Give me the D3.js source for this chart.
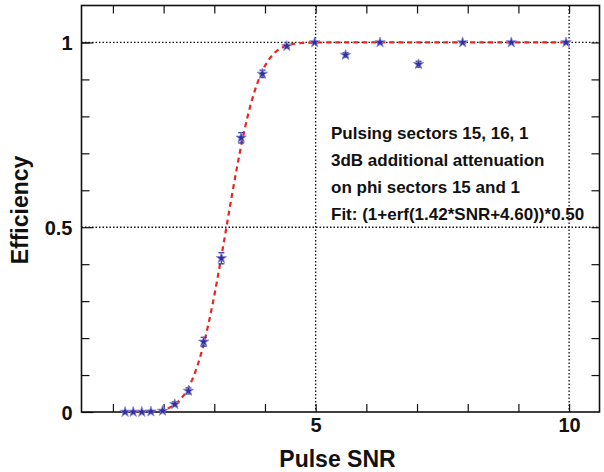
<!DOCTYPE html>
<html>
<head>
<meta charset="utf-8">
<script src="https://cdn.jsdelivr.net/npm/d3@7"></script>
<style>
  body { margin: 0; background: #fff; }
  svg { display: block; font-family: "Liberation Sans", Arial, sans-serif; }
  .tick text { font-weight: bold; font-size: 20px; fill: #111; }
</style>
</head>
<body>
<div id="chart"></div>
<script>
/* DATA */
const snr = [1.24, 1.40, 1.57, 1.75, 1.98, 2.22, 2.49, 2.79, 3.14, 3.53, 3.95, 4.43, 4.98, 5.59, 6.27, 7.03, 7.90, 8.86, 9.94];
const efficiency = [0.0, 0.0, 0.0, 0.001, 0.003, 0.021, 0.057, 0.19, 0.416, 0.742, 0.915, 0.99, 1.0, 0.966, 1.0, 0.941, 1.0, 1.0, 1.0];
const errors = [0.002, 0.002, 0.002, 0.002, 0.003, 0.006, 0.008, 0.012, 0.015, 0.014, 0.01, 0.005, 0.002, 0.006, 0.002, 0.008, 0.002, 0.002, 0.002];

// fit parameters from the legend text
const fitSlope = 1.42;
const fitOffset = 4.60;
const fitRange = [1.2, 10];

const xTicks = [1, 2, 3, 4, 5, 6, 7, 8, 9, 10];
const xLabels = [5, 10];
const yLabels = [0, 0.5, 1];
const yMinor = [0.1, 0.2, 0.3, 0.4, 0.6, 0.7, 0.8, 0.9, 1.0];

const notes = [
    "Pulsing sectors 15, 16, 1",
    "3dB additional attenuation",
    "on phi sectors 15 and 1",
    "Fit: (1+erf(1.42*SNR+4.60))*0.50"
];

/* CONSTANTS */
const width = 604;
const height = 472;
const mLeft = 81.5, mRight = 599.5, mTop = 5.5, mBottom = 412;

const svg = d3.select("#chart")
    .append("svg")
    .attr("width", width)
    .attr("height", height);

/* SCALES */
const xScale = d3.scaleLinear()
    .domain([0.38, 10.6])
    .range([mLeft, mRight]);

const yScale = d3.scaleLinear()
    .domain([0, 1.1])
    .range([mBottom, mTop]);

// error function (Abramowitz & Stegun 7.1.26)
function erf(x) {
    const s = x < 0 ? -1 : 1;
    x = Math.abs(x);
    const t = 1 / (1 + 0.3275911 * x);
    const p = t * (0.254829592 + t * (-0.284496736 + t * (1.421413741 + t * (-1.453152027 + t * 1.061405429))));
    return s * (1 - p * Math.exp(-x * x));
}

/* GRID LINES (dotted) */
svg.selectAll(".vgrid")
    .data(xLabels)
    .join("line")
    .attr("x1", d => xScale(d)).attr("x2", d => xScale(d))
    .attr("y1", mTop).attr("y2", mBottom)
    .attr("stroke", "#111").attr("stroke-width", 1.3)
    .attr("stroke-dasharray", "1.5,2");

svg.selectAll(".hgrid")
    .data([0.5, 1])
    .join("line")
    .attr("x1", mLeft).attr("x2", mRight)
    .attr("y1", d => yScale(d)).attr("y2", d => yScale(d))
    .attr("stroke", "#111").attr("stroke-width", 1.3)
    .attr("stroke-dasharray", "1.5,2");

/* AXES */
const xAxis = d3.axisBottom(xScale)
    .tickValues(xTicks)
    .tickSize(-8)
    .tickFormat(d => xLabels.includes(d) ? d : "")
    .tickPadding(6);

const gx = svg.append("g")
    .attr("transform", "translate(0," + mBottom + ")")
    .call(xAxis);
gx.select(".domain").remove();
gx.selectAll(".tick line").attr("stroke", "#111").attr("stroke-width", 1.2);

const xTop = d3.axisTop(xScale).tickValues(xTicks).tickSize(-8).tickFormat("");
const gxt = svg.append("g").attr("transform", "translate(0," + mTop + ")").call(xTop);
gxt.select(".domain").remove();
gxt.selectAll(".tick line").attr("stroke", "#111").attr("stroke-width", 1.2);

const yAxis = d3.axisLeft(yScale)
    .tickValues(yLabels)
    .tickSize(-12)
    .tickPadding(9)
    .tickFormat(d => String(d));
const gy = svg.append("g").attr("transform", "translate(" + mLeft + ",0)").call(yAxis);
gy.select(".domain").remove();
gy.selectAll(".tick line").attr("stroke", "#111").attr("stroke-width", 1.2);
gy.selectAll(".tick text").attr("dy", "0.36em");

const yMinorAxis = d3.axisLeft(yScale).tickValues(yMinor).tickSize(-8).tickFormat("");
const gym = svg.append("g").attr("transform", "translate(" + mLeft + ",0)").call(yMinorAxis);
gym.select(".domain").remove();
gym.selectAll(".tick line").attr("stroke", "#111").attr("stroke-width", 1.2);

const yRight = d3.axisRight(yScale).tickValues(yMinor.concat([0.5])).tickSize(-8).tickFormat("");
const gyr = svg.append("g").attr("transform", "translate(" + mRight + ",0)").call(yRight);
gyr.select(".domain").remove();
gyr.selectAll(".tick line").attr("stroke", "#111").attr("stroke-width", 1.2);

// frame
svg.append("rect")
    .attr("x", mLeft).attr("y", mTop)
    .attr("width", mRight - mLeft).attr("height", mBottom - mTop)
    .attr("fill", "none")
    .attr("stroke", "#111")
    .attr("stroke-width", 1.6);

/* FIT CURVE */
const fitX = d3.range(fitRange[0], fitRange[1] + 0.001, 0.02);
const line = d3.line()
    .x(d => xScale(d))
    .y(d => yScale(0.5 * (1 + erf(fitSlope * d - fitOffset))));

svg.append("path")
    .datum(fitX)
    .attr("d", line)
    .attr("fill", "none")
    .attr("stroke", "#e8251f")
    .attr("stroke-width", 2.2)
    .attr("stroke-dasharray", "5,4");

/* DATA POINTS */
const points = snr.map((d, i) => ({ x: d, y: efficiency[i], e: errors[i] }));

const pts = svg.selectAll(".pt")
    .data(points)
    .join("g")
    .attr("class", "pt");

pts.append("line")
    .attr("x1", d => xScale(d.x)).attr("x2", d => xScale(d.x))
    .attr("y1", d => yScale(d.y - d.e)).attr("y2", d => yScale(d.y + d.e))
    .attr("stroke", "#3a3aa8").attr("stroke-width", 1.3);

pts.selectAll(".cap")
    .data(d => [d.y - d.e, d.y + d.e].map(v => ({ x: d.x, v: v })))
    .join("line")
    .attr("x1", d => xScale(d.x) - 3).attr("x2", d => xScale(d.x) + 3)
    .attr("y1", d => yScale(d.v)).attr("y2", d => yScale(d.v))
    .attr("stroke", "#3a3aa8").attr("stroke-width", 1.3);

pts.append("path")
    .attr("d", d3.symbol(d3.symbolStar, 34))
    .attr("transform", d => "translate(" + xScale(d.x) + "," + yScale(d.y) + ")")
    .attr("fill", "#2e2ea6")
    .attr("stroke", "#8c8cd0")
    .attr("stroke-width", 0.8);

/* LABELS */
svg.append("text")
    .attr("x", (mLeft + mRight) / 2 - 3)
    .attr("y", 467)
    .attr("text-anchor", "middle")
    .style("font-size", "23px")
    .style("font-weight", "bold")
    .attr("fill", "#111")
    .text("Pulse SNR");

svg.append("text")
    .attr("transform", "rotate(-90)")
    .attr("x", -210)
    .attr("y", 28)
    .attr("text-anchor", "middle")
    .style("font-size", "23px")
    .style("font-weight", "bold")
    .attr("fill", "#111")
    .text("Efficiency");

svg.selectAll(".note")
    .data(notes)
    .join("text")
    .attr("class", "note")
    .attr("x", 331)
    .attr("y", (d, i) => 139 + i * 27)
    .style("font-size", "17px")
    .style("font-weight", "bold")
    .attr("fill", "#111")
    .text(d => d);
</script>
</body>
</html>
